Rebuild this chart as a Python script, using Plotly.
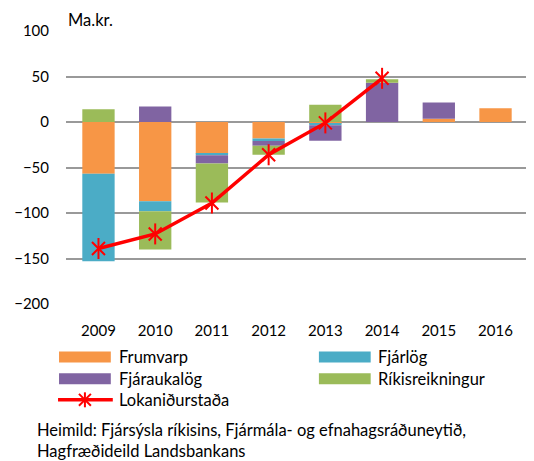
import plotly.graph_objects as go

years = ['2009', '2010', '2011', '2012', '2013', '2014', '2015', '2016']
frumvarp = [-57, -87, -35, -18, -1.5, 0, 3.5, 15]
fjarlog = [-96, -11, -1.5, -3, -2, 0, 0, 0]
fjaraukalog = [0, 17, -9, -5, -17, 43, 18, 0]
rikisreikningur = [14, -42, -43, -10, 19, 4, 0, 0]
lokanidurstada = [-139, -123, -89, -36, -1, 48, None, None]

series_names = ['Frumvarp', 'Fjárlög', 'Fjáraukalög', 'Ríkisreikningur', 'Lokaniðurstaða']
colors = ['#F79646', '#4BACC6', '#8064A2', '#9BBB59']
line_color = '#FF0000'
y_ticks = [100, 50, 0, -50, -100, -150, -200]

FONT = 'Lato'
fs_tick = 15
fs_text = 16.5

fig = go.Figure()
for name, vals, col in zip(series_names[:4], [frumvarp, fjarlog, fjaraukalog, rikisreikningur], colors):
    fig.add_trace(go.Bar(x=years, y=vals, name=name, marker=dict(color=col, line=dict(width=0)),
                         showlegend=False))

fig.add_trace(go.Scatter(x=years, y=lokanidurstada, mode='lines+markers', name=series_names[4],
                         line=dict(color=line_color, width=3.5),
                         marker=dict(symbol='x-thin-open', size=13, color=line_color,
                                     line=dict(color=line_color, width=2)),
                         showlegend=False))
fig.add_trace(go.Scatter(x=years, y=lokanidurstada, mode='markers', hoverinfo='skip',
                         marker=dict(symbol='line-ns-open', size=15, color=line_color,
                                     line=dict(color=line_color, width=2)),
                         showlegend=False))

# page body has an 8px margin, so the figure is drawn at (8, 8)
OFF = 8
W, H = 534 - OFF, 461 - OFF
L, R, T, B = 56, 6, 22.5, 157
pw = W - L - R
ph = H - T - B

def px(x):
    return (x - OFF - L) / pw

def py(y):
    return (H - B - (y - OFF)) / ph

shapes = []
annotations = []
# legend
leg = [
    (0, 57, 357, 115),
    (1, 318, 357, 375),
    (2, 57, 379, 115),
    (3, 318, 379, 375),
]
for idx, x0, yc, tx in leg:
    shapes.append(dict(type='rect', xref='paper', yref='paper', x0=px(x0), x1=px(x0 + 52),
                       y0=py(yc + 5.5), y1=py(yc - 5.5), fillcolor=colors[idx], line=dict(width=0)))
    annotations.append(dict(text=series_names[idx], xref='paper', yref='paper', x=px(tx), y=py(yc),
                            xanchor='left', yanchor='middle', showarrow=False,
                            font=dict(family=FONT, size=fs_text, color='#000')))
# line legend
yc = 400
shapes.append(dict(type='line', xref='paper', yref='paper', x0=px(56), x1=px(111), y0=py(yc), y1=py(yc),
                   line=dict(color=line_color, width=3.5)))
mx = 83
for dx0, dy0, dx1, dy1 in [(-6, -6, 6, 6), (-6, 6, 6, -6), (0, -7.5, 0, 7.5)]:
    shapes.append(dict(type='line', xref='paper', yref='paper', x0=px(mx + dx0), x1=px(mx + dx1),
                       y0=py(yc + dy0), y1=py(yc + dy1), line=dict(color=line_color, width=2)))
annotations.append(dict(text=series_names[4], xref='paper', yref='paper', x=px(115), y=py(yc),
                        xanchor='left', yanchor='middle', showarrow=False,
                        font=dict(family=FONT, size=fs_text, color='#000')))
# unit label
annotations.append(dict(text='Ma.kr.', xref='paper', yref='paper', x=px(65), y=py(8),
                        xanchor='left', yanchor='top', showarrow=False, borderpad=0,
                        font=dict(family=FONT, size=fs_text, color='#000')))
# source
annotations.append(dict(text='Heimild: Fjársýsla ríkisins, Fjármála- og efnahagsráðuneytið,<br>Hagfræðideild Landsbankans',
                        xref='paper', yref='paper', x=px(33), y=py(418), align='left',
                        xanchor='left', yanchor='top', showarrow=False,
                        font=dict(family=FONT, size=fs_text, color='#000')))

fig.update_layout(
    width=W, height=H, margin=dict(l=L, r=R, t=T, b=B),
    barmode='relative', bargap=0.43,
    plot_bgcolor='white', paper_bgcolor='white',
    font=dict(family=FONT, size=fs_tick, color='#000'),
    shapes=shapes, annotations=annotations,
    xaxis=dict(type='category', showgrid=False, zeroline=False, showline=False, ticks='',
               ticklabelstandoff=16, tickfont=dict(family=FONT, size=fs_tick)),
    yaxis=dict(range=[-200, 100], tickvals=y_ticks, showgrid=True, gridcolor='#999999', gridwidth=1.5,
               zeroline=True, zerolinecolor='#999999', zerolinewidth=1.5, showline=False,
               ticks='', ticklabelstandoff=16, tickfont=dict(family=FONT, size=fs_tick)),
    showlegend=False,
)

fig.write_html('out.html')
